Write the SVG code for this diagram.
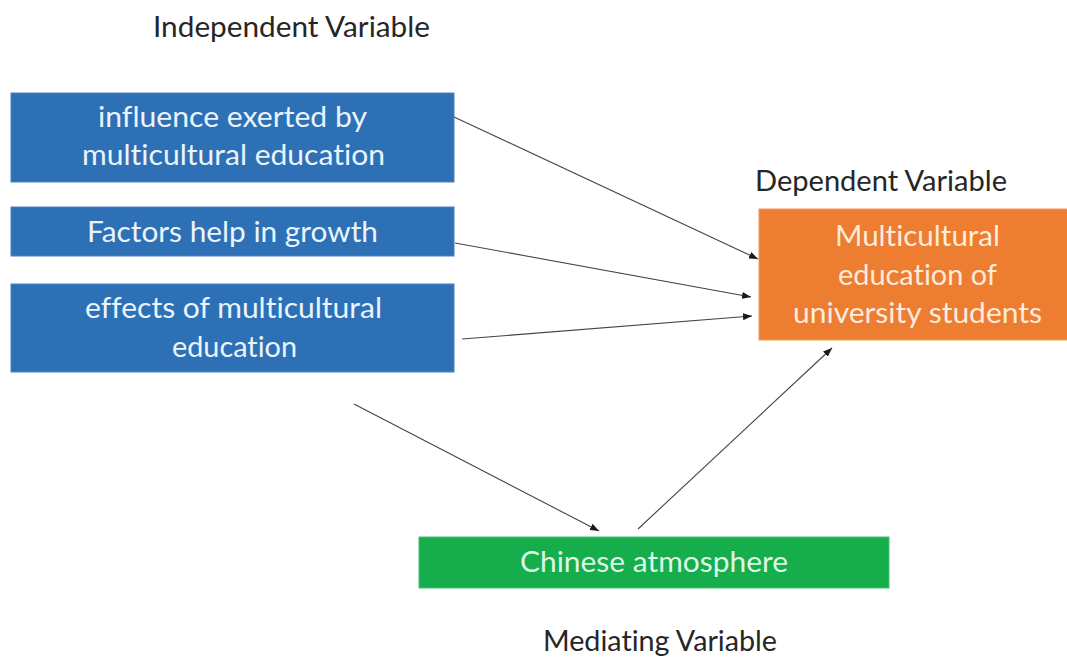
<svg xmlns="http://www.w3.org/2000/svg" width="1067" height="659" viewBox="0 0 1067 659">
  <style>
    text { font-family: Lato, "Liberation Sans", sans-serif; font-size: 28px; text-anchor: middle; font-variant-ligatures: none; }
    .lbl { fill: #262626; }
    .blue { fill: #2E70B5; stroke: #4C82BD; stroke-width: 1; }
    .orange { fill: #ED7D31; stroke: #F09A5E; stroke-width: 1; }
    .green { fill: #16AD4C; stroke: #4CC074; stroke-width: 1; }
    .tb { fill: #EAF4FC; }
    .to { fill: #FDEBDC; }
    .tg { fill: #DDF8E4; }
    .conn line { stroke: #444444; stroke-width: 1.1; fill: none; marker-end: url(#ah); }
  </style>
  <defs>
    <marker id="ah" markerUnits="userSpaceOnUse" markerWidth="9" markerHeight="7" refX="9" refY="3.5" orient="auto">
      <path d="M0,0 L9,3.5 L0,7 Z" fill="#1A1A1A"/>
    </marker>
  </defs>
  <rect width="1067" height="659" fill="#FFFFFF"/>

  <g id="label-independent">
    <text class="lbl" x="291.5" y="37" textLength="277" lengthAdjust="spacingAndGlyphs">Independent Variable</text>
  </g>
  <g id="label-dependent">
    <text class="lbl" x="881" y="191" textLength="252" lengthAdjust="spacingAndGlyphs">Dependent Variable</text>
  </g>
  <g id="label-mediating">
    <text class="lbl" x="660" y="651" textLength="234" lengthAdjust="spacingAndGlyphs">Mediating Variable</text>
  </g>

  <g id="node-influence">
    <rect class="blue" x="11" y="93" width="443" height="89"/>
    <text class="tb" x="232.5" y="127" textLength="269" lengthAdjust="spacingAndGlyphs">influence exerted by</text>
    <text class="tb" x="233.5" y="165" textLength="303" lengthAdjust="spacingAndGlyphs">multicultural education</text>
  </g>
  <g id="node-factors">
    <rect class="blue" x="11" y="207" width="443" height="49"/>
    <text class="tb" x="232.5" y="242" textLength="291" lengthAdjust="spacingAndGlyphs">Factors help in growth</text>
  </g>
  <g id="node-effects">
    <rect class="blue" x="11" y="284" width="443" height="88"/>
    <text class="tb" x="233.5" y="318" textLength="297" lengthAdjust="spacingAndGlyphs">effects of multicultural</text>
    <text class="tb" x="234.5" y="357" textLength="125" lengthAdjust="spacingAndGlyphs">education</text>
  </g>
  <g id="node-dependent">
    <rect class="orange" x="759" y="209" width="309" height="131"/>
    <text class="to" x="917.5" y="246" textLength="165" lengthAdjust="spacingAndGlyphs">Multicultural</text>
    <text class="to" x="917.5" y="285" textLength="159" lengthAdjust="spacingAndGlyphs">education of</text>
    <text class="to" x="917.5" y="323" textLength="249" lengthAdjust="spacingAndGlyphs">university students</text>
  </g>
  <g id="node-mediating">
    <rect class="green" x="419" y="537" width="470" height="51"/>
    <text class="tg" x="654" y="572" textLength="268" lengthAdjust="spacingAndGlyphs">Chinese atmosphere</text>
  </g>

  <g id="connectors" class="conn">
    <line x1="454" y1="117" x2="758" y2="259"/>
    <line x1="455" y1="243" x2="751" y2="297"/>
    <line x1="462" y1="339" x2="752" y2="316"/>
    <line x1="354" y1="404" x2="599" y2="531"/>
    <line x1="638" y1="529" x2="832" y2="348"/>
  </g>
</svg>
